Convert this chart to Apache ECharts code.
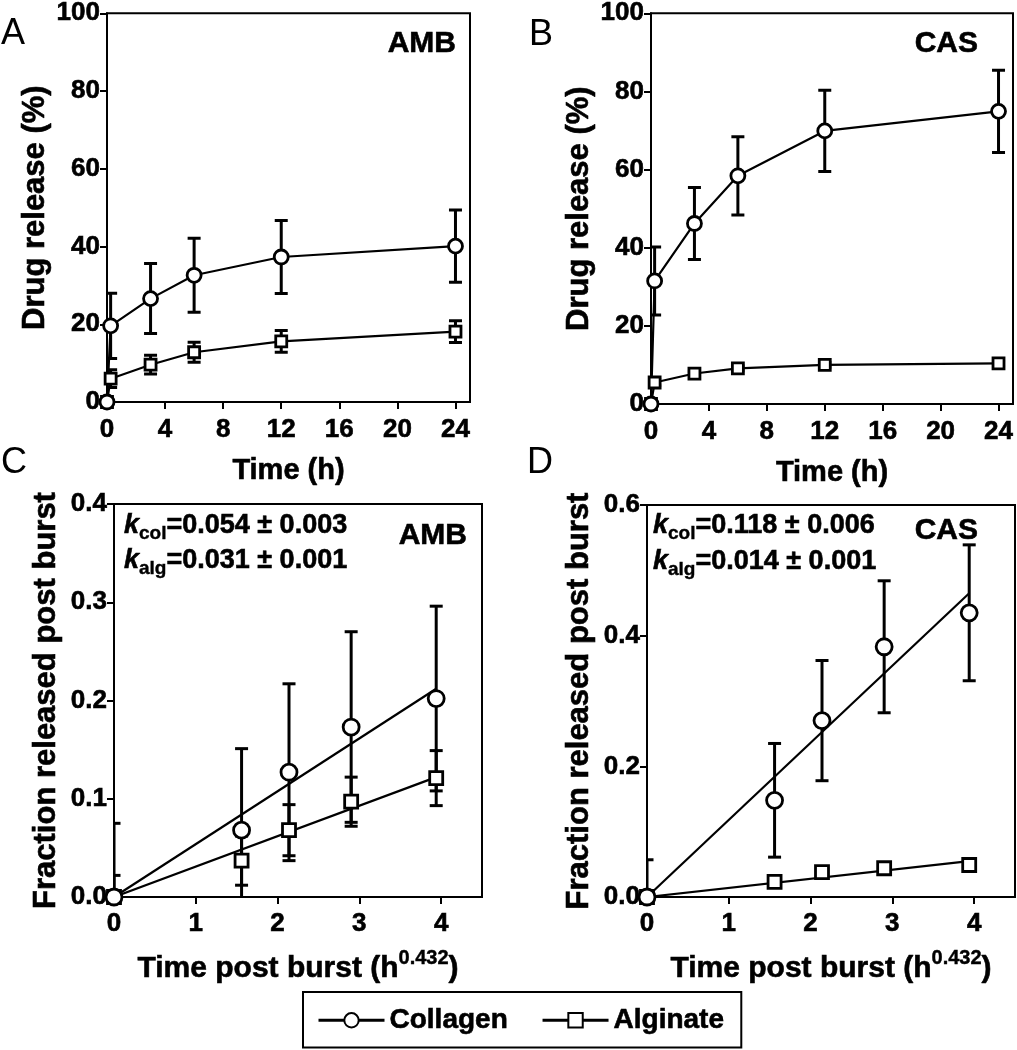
<!DOCTYPE html>
<html>
<head>
<meta charset="utf-8">
<script src="https://cdn.jsdelivr.net/npm/echarts@6/dist/echarts.min.js"></script>
<style>html,body{margin:0;padding:0;background:#fff}#c{width:1017px;height:1050px}</style>
</head>
<body>
<div id="c"></div>
<script>
// ---------- data ----------
const timeH = [0, 0.25, 3, 6, 12, 24];
const timeTicks = [0, 4, 8, 12, 16, 20, 24];
const ambColMean = [0, 19.6, 26.6, 32.6, 37.3, 40.1];
const ambColErr  = [0, 8.4, 9.0, 9.5, 9.4, 9.3];
const ambAlgMean = [0, 6.0, 9.6, 12.8, 15.6, 18.1];
const ambAlgErr  = [0, 2.3, 2.4, 2.6, 2.8, 2.8];
const casColMean = [0, 31.5, 46.2, 58.4, 69.9, 74.9];
const casColErr  = [0, 8.7, 9.2, 10.0, 10.4, 10.5];
const casAlgMean = [0, 5.5, 7.8, 9.1, 10.0, 10.4];
const casAlgErr  = [0, 0.8, 0.6, 0.6, 0.6, 0.6];

const postBurstX = [0, 1.56, 2.14, 2.90, 3.94];
const postTicks = [0, 1, 2, 3, 4];
const ambFracCol    = [0, 0.068, 0.127, 0.173, 0.202];
const ambFracColErr = [0.075, 0.083, 0.090, 0.097, 0.094];
const ambFracAlg    = [0, 0.037, 0.068, 0.097, 0.121];
const ambFracAlgErr = [0.022, 0.025, 0.026, 0.025, 0.028];
const casFracCol    = [0, 0.148, 0.270, 0.383, 0.435];
const casFracColErr = [0.057, 0.087, 0.092, 0.101, 0.104];
const casFracAlg    = [0, 0.023, 0.038, 0.044, 0.049];
const casFracAlgErr = [0.003, 0.005, 0.006, 0.006, 0.006];

// fitted straight lines (end points)
const ambFitCol = [[0, 0], [3.94, 0.212]];
const ambFitAlg = [[0, 0], [3.94, 0.122]];
const casFitCol = [[0, 0], [3.94, 0.465]];
const casFitAlg = [[0, 0], [3.94, 0.055]];

const legendNames = ['Collagen', 'Alginate'];

// ---------- styling helpers ----------
const FONT = '"Liberation Sans", Arial, Helvetica, sans-serif';
const BLACK = '#000';
const TB = 0.6; // slight text outline to mimic the heavy bold of the original

function pairs(xs, ys) { return xs.map((x, i) => [x, ys[i]]); }

function errSeries(name, idx, xs, means, errs, cap) {
  const data = [];
  xs.forEach((x, i) => { if (errs[i] > 0) data.push([x, means[i] - errs[i], means[i] + errs[i]]); });
  return {
    type: 'custom', name: name, xAxisIndex: idx, yAxisIndex: idx, clip: true, silent: true,
    data: data,
    encode: { x: 0, y: [1, 2] },
    renderItem: function (params, api) {
      const x = api.value(0);
      const lo = api.coord([x, api.value(1)]);
      const hi = api.coord([x, api.value(2)]);
      const st = { stroke: BLACK, lineWidth: 3, fill: null };
      return {
        type: 'group',
        children: [
          { type: 'line', shape: { x1: lo[0], y1: lo[1], x2: hi[0], y2: hi[1] }, style: st },
          { type: 'line', shape: { x1: hi[0] - cap, y1: hi[1], x2: hi[0] + cap, y2: hi[1] }, style: st },
          { type: 'line', shape: { x1: lo[0] - cap, y1: lo[1], x2: lo[0] + cap, y2: lo[1] }, style: st }
        ]
      };
    }
  };
}

const markerStyle = { color: '#fff', borderColor: BLACK, borderWidth: 2.8, opacity: 1 };

function lineSeries(name, idx, xs, ys, symbol, size) {
  return {
    type: 'line', name: name, xAxisIndex: idx, yAxisIndex: idx,
    data: pairs(xs, ys), symbol: symbol, symbolSize: size, showAllSymbol: true,
    lineStyle: { color: BLACK, width: 2.2 }, itemStyle: markerStyle,
    emphasis: { disabled: true }, animation: false
  };
}
function scatterSeries(name, idx, xs, ys, symbol, size) {
  return {
    type: 'scatter', name: name, xAxisIndex: idx, yAxisIndex: idx, z: 4,
    data: pairs(xs, ys), symbol: symbol, symbolSize: size,
    itemStyle: markerStyle, emphasis: { disabled: true }, animation: false
  };
}
function fitSeries(name, idx, pts) {
  return {
    type: 'line', name: name, xAxisIndex: idx, yAxisIndex: idx, z: 3,
    data: pts, symbol: 'none', lineStyle: { color: BLACK, width: 2.2 }, animation: false
  };
}

const tickLabel = { color: BLACK, fontFamily: FONT, fontWeight: 'bold', fontSize: 26, textBorderColor: BLACK, textBorderWidth: TB };

function xAxis(idx, max, ticks, name, nameGap, margin, rich) {
  return {
    type: 'value', gridIndex: idx, min: 0, max: max,
    name: name, nameLocation: 'middle', nameGap: nameGap,
    nameTextStyle: rich ? { color: BLACK, rich: rich } : { color: BLACK, fontFamily: FONT, fontWeight: 'bold', fontSize: 29, textBorderColor: BLACK, textBorderWidth: TB },
    axisLine: { show: true, onZero: false, lineStyle: { color: BLACK, width: 2 } },
    axisTick: { show: true, inside: false, length: 7, lineStyle: { color: BLACK, width: 2 }, customValues: ticks },
    axisLabel: Object.assign({ margin: margin, customValues: ticks }, tickLabel),
    splitLine: { show: false }
  };
}
function yAxis(idx, max, interval, name, nameGap, decimals) {
  return {
    type: 'value', gridIndex: idx, min: 0, max: max, interval: interval,
    name: name, nameLocation: 'middle', nameGap: nameGap,
    nameTextStyle: { color: BLACK, fontFamily: FONT, fontWeight: 'bold', fontSize: 31, textBorderColor: BLACK, textBorderWidth: TB },
    axisLine: { show: true, onZero: false, lineStyle: { color: BLACK, width: 2 } },
    axisTick: { show: true, inside: false, length: 7, lineStyle: { color: BLACK, width: 2 } },
    axisLabel: Object.assign({ margin: 7, formatter: v => v.toFixed(decimals) }, tickLabel),
    splitLine: { show: false }
  };
}

const postRich = {
  a: { fontFamily: FONT, fontWeight: 'bold', fontSize: 30, lineHeight: 42, color: BLACK, verticalAlign: 'middle', textBorderColor: BLACK, textBorderWidth: TB },
  sup: { fontFamily: FONT, fontWeight: 'bold', fontSize: 20, lineHeight: 20, color: BLACK, verticalAlign: 'top', textBorderColor: BLACK, textBorderWidth: 0.4 }
};
const postName = '{a|Time post burst (h}{sup|0.432}{a|)}';

// rich styles for zrender text elements (graphic component): stroke/lineWidth outline
const kRich = {
  k: { fontFamily: FONT, fontWeight: 'bold', fontStyle: 'italic', fontSize: 27, lineHeight: 34, fill: BLACK, stroke: BLACK, lineWidth: TB },
  s: { fontFamily: FONT, fontWeight: 'bold', fontSize: 19, lineHeight: 19, fill: BLACK, verticalAlign: 'bottom', stroke: BLACK, lineWidth: 0.4 },
  n: { fontFamily: FONT, fontWeight: 'bold', fontSize: 27, lineHeight: 34, fill: BLACK, stroke: BLACK, lineWidth: TB }
};

function txt(x, y, text, font, align, bold) {
  return { type: 'text', x: x, y: y, silent: true,
    style: { text: text, font: font, fill: BLACK, align: align || 'left', verticalAlign: 'middle',
             textAlign: align || 'left', textVerticalAlign: 'middle',
             stroke: bold ? BLACK : null, lineWidth: bold ? TB : 0 } };
}
function richTxt(x, y, text) {
  return { type: 'text', x: x, y: y, silent: true,
    style: { text: text, rich: kRich, fill: BLACK, align: 'left', verticalAlign: 'middle',
             textAlign: 'left', textVerticalAlign: 'middle' } };
}

const panelFont = '36px ' + FONT;

const option = {
  animation: false,
  backgroundColor: '#fff',
  grid: [
    { left: 107, top: 11, width: 363, height: 391, show: true, borderColor: BLACK, borderWidth: 2, backgroundColor: 'transparent' },
    { left: 651, top: 13, width: 362, height: 391, show: true, borderColor: BLACK, borderWidth: 2, backgroundColor: 'transparent' },
    { left: 114, top: 504, width: 368, height: 393, show: true, borderColor: BLACK, borderWidth: 2, backgroundColor: 'transparent' },
    { left: 647, top: 505, width: 368, height: 392, show: true, borderColor: BLACK, borderWidth: 2, backgroundColor: 'transparent' }
  ],
  xAxis: [
    xAxis(0, 25, timeTicks, 'Time (h)', 54, 15),
    xAxis(1, 25, timeTicks, 'Time (h)', 54, 15),
    xAxis(2, 4.5, postTicks, postName, 51, 14, postRich),
    xAxis(3, 4.5, postTicks, postName, 51, 14, postRich)
  ],
  yAxis: [
    yAxis(0, 100, 20, 'Drug release (%)', 56, 0),
    yAxis(1, 100, 20, 'Drug release (%)', 56, 0),
    yAxis(2, 0.4, 0.1, 'Fraction released post burst', 52, 1),
    yAxis(3, 0.6, 0.2, 'Fraction released post burst', 52, 1)
  ],
  legend: {
    data: legendNames,
    left: 303, top: 992,
    orient: 'horizontal',
    padding: [14, 17, 13, 14],
    itemGap: 33, itemWidth: 66, itemHeight: 18,
    borderColor: BLACK, borderWidth: 2, backgroundColor: '#fff',
    lineStyle: { width: 3 },
    selectedMode: false,
    textStyle: { color: BLACK, fontFamily: FONT, fontWeight: 'bold', fontSize: 28, lineHeight: 28, textBorderColor: BLACK, textBorderWidth: TB }
  },
  graphic: [
    txt(1, 34, 'A', panelFont),
    txt(529, 35, 'B', panelFont),
    txt(1, 463, 'C', panelFont),
    txt(527, 463, 'D', panelFont),
    txt(456, 44, 'AMB', 'bold 30px ' + FONT, 'right', true),
    txt(978, 44, 'CAS', 'bold 30px ' + FONT, 'right', true),
    txt(467, 536, 'AMB', 'bold 30px ' + FONT, 'right', true),
    txt(978, 531, 'CAS', 'bold 30px ' + FONT, 'right', true),
    richTxt(124, 526, '{k|k}{s|col}{n|=0.054 ± 0.003}'),
    richTxt(124, 561, '{k|k}{s|alg}{n|=0.031 ± 0.001}'),
    richTxt(653, 526, '{k|k}{s|col}{n|=0.118 ± 0.006}'),
    richTxt(653, 562, '{k|k}{s|alg}{n|=0.014 ± 0.001}')
  ],
  series: [
    // Panel A
    errSeries('errA1', 0, timeH, ambColMean, ambColErr, 6.5),
    errSeries('errA2', 0, timeH, ambAlgMean, ambAlgErr, 6.5),
    lineSeries('Alginate', 0, timeH, ambAlgMean, 'rect', 11),
    lineSeries('Collagen', 0, timeH, ambColMean, 'circle', 14),
    // Panel B
    errSeries('errB1', 1, timeH, casColMean, casColErr, 6.5),
    errSeries('errB2', 1, timeH, casAlgMean, casAlgErr, 6.5),
    lineSeries('Alginate B', 1, timeH, casAlgMean, 'rect', 11),
    lineSeries('Collagen B', 1, timeH, casColMean, 'circle', 14),
    // Panel C
    errSeries('errC1', 2, postBurstX, ambFracCol, ambFracColErr, 6.5),
    errSeries('errC2', 2, postBurstX, ambFracAlg, ambFracAlgErr, 6.5),
    fitSeries('fitC1', 2, ambFitCol),
    fitSeries('fitC2', 2, ambFitAlg),
    scatterSeries('Alginate C', 2, postBurstX, ambFracAlg, 'rect', 13),
    scatterSeries('Collagen C', 2, postBurstX, ambFracCol, 'circle', 16),
    // Panel D
    errSeries('errD1', 3, postBurstX, casFracCol, casFracColErr, 6.5),
    errSeries('errD2', 3, postBurstX, casFracAlg, casFracAlgErr, 6.5),
    fitSeries('fitD1', 3, casFitCol),
    fitSeries('fitD2', 3, casFitAlg),
    scatterSeries('Alginate D', 3, postBurstX, casFracAlg, 'rect', 13),
    scatterSeries('Collagen D', 3, postBurstX, casFracCol, 'circle', 16)
  ]
};

const chart = echarts.init(document.getElementById('c'), null, { renderer: 'canvas' });
chart.setOption(option);
</script>
</body>
</html>
